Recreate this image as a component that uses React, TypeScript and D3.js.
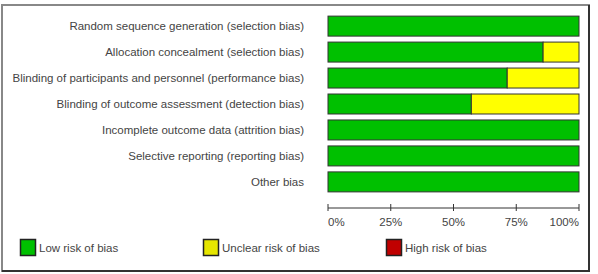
import React from "react";
import * as d3 from "d3";

const domains = [
  "Random sequence generation (selection bias)",
  "Allocation concealment (selection bias)",
  "Blinding of participants and personnel (performance bias)",
  "Blinding of outcome assessment (detection bias)",
  "Incomplete outcome data (attrition bias)",
  "Selective reporting (reporting bias)",
  "Other bias",
];
// percentage of studies per judgement
const lowRisk = [100, 85.7, 71.4, 57.1, 100, 100, 100];
const unclearRisk = [0, 14.3, 28.6, 42.9, 0, 0, 0];
const highRisk = [0, 0, 0, 0, 0, 0, 0];
const tickValues = [0, 25, 50, 75, 100];

const legendItems = [
  { label: "Low risk of bias", fill: "#00c000" },
  { label: "Unclear risk of bias", fill: "#e6e600" },
  { label: "High risk of bias", fill: "#c00000" },
];

const W = 598;
const H = 274;
const font = "'Liberation Sans', Arial, sans-serif";

const App: React.FC = () => {
  const x = d3.scaleLinear().domain([0, 100]).range([328, 579]);
  const y = d3
    .scaleBand<string>()
    .domain(domains)
    .range([13, 195])
    .paddingInner(0.23)
    .paddingOuter(0.12);

  const rows = domains.map((d, i) => {
    const segs = [
      { key: "low", v: lowRisk[i], fill: "#00c000" },
      { key: "unclear", v: unclearRisk[i], fill: "#ffff00" },
      { key: "high", v: highRisk[i], fill: "#c00000" },
    ];
    let acc = 0;
    return {
      name: d,
      segs: segs.map((s) => {
        const x0 = acc;
        acc += s.v;
        return { ...s, x0, x1: acc };
      }),
    };
  });

  const axisY = 208;
  const legendX = [20, 203, 386];

  return (
    <svg
      width={W}
      height={H}
      style={{ position: "absolute", left: 0, top: 0 }}
      fontFamily={font}
    >
      <rect x={0} y={0} width={W} height={H} fill="#fff" />
      {/* frame */}
      <rect x={2} y={5} width={587} height={266} fill="none" stroke="#888" strokeWidth={2} />
      <path d="M589,5V271H2" fill="none" stroke="#333" strokeWidth={2} />

      {rows.map((r) => (
        <g key={r.name}>
          <text
            x={304}
            y={(y(r.name) ?? 0) + y.bandwidth() / 2}
            dy="0.35em"
            textAnchor="end"
            fontSize={11.5}
            fill="#444"
          >
            {r.name}
          </text>
          {r.segs
            .filter((s) => s.v > 0)
            .map((s) => (
              <rect
                key={s.key}
                x={x(s.x0)}
                y={y(r.name)}
                width={x(s.x1) - x(s.x0)}
                height={y.bandwidth()}
                fill={s.fill}
                stroke="#333"
                strokeWidth={1}
              />
            ))}
        </g>
      ))}

      {/* axis */}
      <line x1={x(0)} x2={x(100)} y1={axisY} y2={axisY} stroke="#333" strokeWidth={1} />
      {tickValues.map((t) => (
        <g key={t}>
          <line x1={x(t)} x2={x(t)} y1={axisY - 4} y2={axisY + 3} stroke="#333" />
          <text
            x={x(t)}
            y={axisY + 14}
            dy="0.35em"
            textAnchor={t === 0 ? "start" : t === 100 ? "end" : "middle"}
            fontSize={11.5}
            fill="#444"
          >
            {t}%
          </text>
        </g>
      ))}

      {/* legend */}
      {legendItems.map((l, i) => (
        <g key={l.label}>
          <rect
            x={legendX[i] + 0.5}
            y={239.5}
            width={15}
            height={16}
            fill={l.fill}
            stroke="#222"
            strokeWidth={1.5}
          />
          <text x={legendX[i] + 19} y={248} dy="0.35em" fontSize={11.5} fill="#444">
            {l.label}
          </text>
        </g>
      ))}
    </svg>
  );
};

export default App;
